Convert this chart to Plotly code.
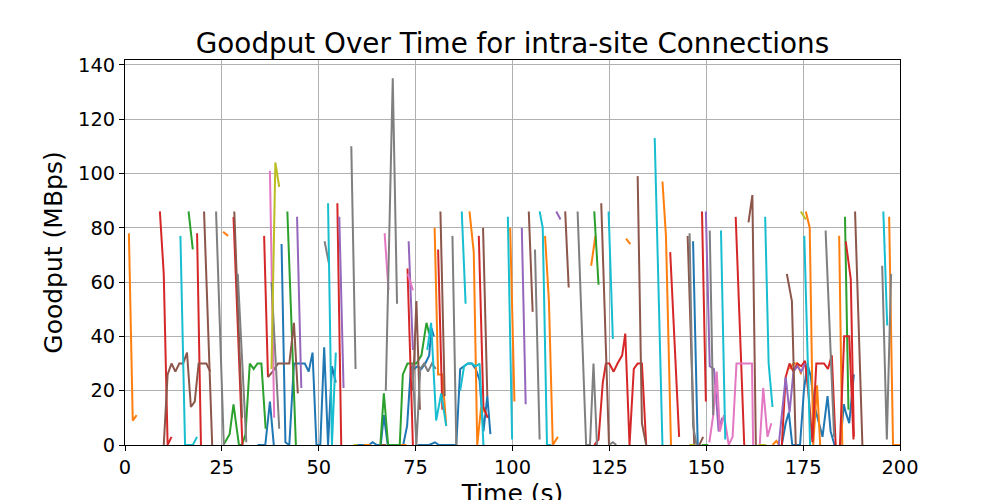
import plotly.graph_objects as go

# Goodput samples (time in s, goodput in MBps), one run per connection, grouped by line colour
blue_runs = [
    ([34.2, 35.2, 36.2, 37.4, 38.4], [0, 0, 0, 16, 0]),
    ([40.4, 41.4, 42.4, 43.6, 44.5, 45.5, 46.4, 47.4, 48.4, 49.4, 50.4, 51.4, 52.4, 53.4, 54.4],
     [74, 1, 0, 30, 30, 30, 30, 27, 34, 0, 0, 36, 0, 29, 23]),
    ([59.9, 61, 62, 63, 63.9, 65, 66, 66.8, 67.8, 68.8, 69.8, 70.8, 71.8, 72.8, 73.8, 74.6, 75.5, 76.5,
      77.5, 78.5, 79.1, 79.7],
     [0, 0, 0, 0, 1, 0, 0, 11, 0, 0, 0, 0, 0, 7, 29, 28, 29, 28, 30, 33, 43, 40]),
    ([75.5, 77, 78.5, 80, 81, 82, 83, 84.5, 85.5, 86.5, 87.5, 88.5, 89.5, 90.5, 91.5, 92.5, 93.5, 94.3],
     [0, 0, 0, 1, 0, 0, 0, 0, 0, 28, 29, 30, 30, 28, 24, 5, 18, 4]),
    ([146.6, 147.8], [75, 0]),
    ([169.5, 170.5, 171.3, 172.2, 173.2, 174.2, 175.2, 176.1, 177, 177.8, 179.1, 180, 181.3, 182.1, 183.1, 183.6],
     [0, 8, 12, 0, 0, 0, 20, 30, 25, 15, 8, 3, 18, 5, 0, 0]),
    ([184.6, 185.5, 186, 186.9, 188.1], [0, 15, 12, 8, 26]),
]
orange_runs = [
    ([1, 2, 3], [78, 9, 11]),
    ([25.3, 26.6], [78.5, 77]),
    ([61.6, 62.5, 63.4], [0, 0, 0]),
    ([71, 72, 72.6], [0, 0, 0]),
    ([79.9, 80.8, 81.9, 82.9], [80, 26, 26, 7]),
    ([88.9, 90, 90.9, 91.9, 92.9], [86, 71, 0, 14, 12]),
    ([99.4, 100.5], [80, 16]),
    ([108.4, 109.4, 110.4, 111.7], [77, 53, 0, 3]),
    ([120.3, 121.4], [66, 77]),
    ([129.3, 130.4], [76, 74]),
    ([138.7, 139.6, 140.9], [97, 77, 0]),
    ([167.1, 168.1, 168.8], [0, 1.5, 0]),
    ([171.5, 172.5, 173.5, 174.5], [28, 30, 30, 26]),
    ([175.7, 176.7, 177.6, 178.6, 179.4], [86, 80, 0, 22, 0]),
    ([184.3, 185.1], [77, 0]),
    ([197.2, 198.2, 199.2, 200], [84, 0, 0, 0]),
]
green_runs = [
    ([16.4, 17.5], [86, 72]),
    ([25.4, 27, 28, 29.4, 30.2, 31.1, 32.2, 33.2, 34.2, 35.2, 36.3], [0, 4, 15, 0, 0, 4, 30, 28, 30, 30, 6]),
    ([41.9, 44.1], [86, 0]),
    ([65.9, 66.8, 67.9, 68.9, 69.9, 70.9, 71.7, 72.9, 74, 75.2, 76.5, 77.8, 78.5],
     [0, 19, 0, 0, 0, 0, 26, 30, 30, 30, 33, 45, 41]),
    ([121.1, 122.2], [86, 59]),
    ([148.8, 150.5], [0, 0]),
    ([185.8, 186.7], [84, 13]),
]
red_runs = [
    ([9, 10, 11, 12], [86, 63, 0, 3]),
    ([18.6, 19.6], [78, 0]),
    ([28.0, 30.3], [84, 0]),
    ([35.9, 36.9], [77, 25]),
    ([54.8, 55.8], [89, 0]),
    ([72.9, 74.3], [65, 0]),
    ([80.8, 81.9], [72, 13]),
    ([91.3, 92.5, 93.6], [77, 14, 10]),
    ([121.1, 122.2, 123.3, 124.1, 125, 126.1, 127.1, 128.3, 129.1, 130.2, 131.3, 132.3, 133.4, 134.5],
     [0, 2, 23, 30, 30, 27, 30, 33, 41, 0, 28, 30, 30, 0]),
    ([140.7, 143], [71, 3]),
    ([148.9, 149.9], [86, 16]),
    ([157.6, 159.8], [84, 0]),
    ([169.5, 170.5, 171.5, 172.5, 173.5, 174.5, 175.5, 176.5, 177.4, 178.4, 179.4, 180.4, 181.4, 182.4, 183.4],
     [0, 25, 30, 27, 30, 29, 31, 17, 1, 30, 30, 30, 28, 33, 0]),
    ([184.5, 185.6, 186.9, 188], [0, 40, 40, 2]),
    ([186, 187.3, 188.1], [75, 61, 3]),
]
purple_runs = [
    ([44.4, 45.5], [84, 21]),
    ([55.3, 56.4], [84, 21]),
    ([73.2, 74.3], [75, 35]),
    ([102.4, 103.4], [80, 15]),
    ([111.3, 112.4], [86, 83]),
    ([149.9, 150.9, 152, 153.2, 154.1], [86, 29, 28, 5, 10]),
    ([168.7, 170.5, 171.5, 172.5, 173.5, 174.5, 175.5], [0, 25, 12, 27, 29, 27, 30]),
]
brown_runs = [
    ([10, 11, 12, 13, 14, 15, 16, 17, 18, 19, 20, 21, 22], [0, 26, 30, 27, 30, 30, 34, 14, 16, 30, 30, 30, 27]),
    ([20.4, 22.5], [86, 0]),
    ([28.2, 30.2], [86, 10]),
    ([36.9, 38.1, 39.5, 40.5, 41.5, 42.4, 43.6, 44.6], [25, 27, 30, 30, 30, 30, 45, 19]),
    ([66.1, 67.4], [0, 0]),
    ([74.3, 75.2, 76.1], [20, 53, 13]),
    ([81.4, 82.5], [86, 18]),
    ([92.4, 93.5], [80, 18]),
    ([104.2, 105.2], [86, 49]),
    ([113.6, 114.5], [86, 58]),
    ([122.9, 124.9], [89, 0]),
    ([132.3, 133.4, 134.5], [99, 8, 0]),
    ([145.2, 146.9], [77, 0]),
    ([148.2, 149.2], [0, 3]),
    ([160.9, 161.9, 162.8], [82, 92, 0]),
    ([170.8, 172.1, 173.1], [63, 53, 0]),
    ([188.4, 190.3], [86, 0]),
]
pink_runs = [
    ([37.4, 38.5], [101, 10]),
    ([67, 68], [78, 57]),
    ([73, 74.3], [63, 57]),
    ([150.8, 151.8, 152.7, 153.5, 154.6, 155.8, 156.8, 157.8, 159, 160.5, 161.8, 162.1],
     [1, 11, 27, 5, 11, 0, 3, 30, 30, 30, 30, 0]),
    ([163.8, 164.7, 165.8, 166.8], [0, 21, 3, 8]),
]
gray_runs = [
    ([23.5, 25.5], [86, 0]),
    ([29.1, 31.3], [63, 1]),
    ([37.8, 39.8], [60, 6]),
    ([51.5, 52.6], [75, 67]),
    ([58.4, 59.5], [110, 28]),
    ([67.3, 69.1, 70.2], [20, 135, 52]),
    ([74.2, 75.2, 76.2, 77.2, 78.2, 79.2, 80.2], [30, 0, 28, 30, 27, 30, 28]),
    ([84.5, 85.5], [77, 0]),
    ([105.8, 107], [72, 2]),
    ([116.8, 119, 120, 120.9, 121.8], [86, 0, 0, 30, 0]),
    ([124.9, 125.9, 126.8], [0, 1, 0]),
    ([145.7, 146.6, 147.5], [78, 7, 0]),
    ([150.9, 151.8], [79, 11]),
    ([180.8, 183], [79, 3]),
    ([195.4, 196.6, 197.7], [66, 2, 63]),
]
olive_runs = [
    ([37.8, 38.8, 39.8], [28, 104, 95]),
    ([59, 60], [0, 0]),
    ([145.6, 147], [0, 0]),
    ([163.5, 165.5], [0, 0]),
    ([174.4, 175.7], [86, 83]),
]
cyan_runs = [
    ([14.3, 15.5, 16.5, 17.5, 18.6], [77, 0, 0, 0, 3]),
    ([52.4, 53.4, 54.4], [89, 0, 34]),
    ([78, 79, 80.3, 81.6, 82.9], [35, 45, 9, 19, 7]),
    ([86.9, 87.9], [86, 52]),
    ([86.5, 87.5, 88.5, 89.5, 90.5, 91.5, 92.5], [20, 29, 30, 30, 29, 30, 0]),
    ([98.8, 99.9], [84, 2]),
    ([107, 107.8, 108.9, 110], [86, 80, 0, 0]),
    ([124.8, 125.9], [86, 39]),
    ([136.7, 138.7], [113, 0]),
    ([153.8, 154.9], [79, 2]),
    ([165.2, 166.1, 167.1], [84, 30, 14]),
    ([175.3, 176.1, 176.8], [77, 33, 0]),
    ([195.7, 196.7], [86, 44]),
]

x_ticks = [0, 25, 50, 75, 100, 125, 150, 175, 200]
y_ticks = [0, 20, 40, 60, 80, 100, 120, 140]

series = [
    (blue_runs, '#1f77b4'),
    (orange_runs, '#ff7f0e'),
    (green_runs, '#2ca02c'),
    (red_runs, '#d62728'),
    (purple_runs, '#9467bd'),
    (brown_runs, '#8c564b'),
    (pink_runs, '#e377c2'),
    (gray_runs, '#7f7f7f'),
    (olive_runs, '#bcbd22'),
    (cyan_runs, '#17becf'),
]


def join_runs(runs):
    """Flatten runs into one x/y pair with None gaps between connections."""
    xs, ys = [], []
    for t, v in runs:
        xs += list(t) + [None]
        ys += list(v) + [None]
    return xs, ys


fig = go.Figure()
for runs, color in series:
    xs, ys = join_runs(runs)
    fig.add_trace(go.Scatter(x=xs, y=ys, mode='lines', line=dict(color=color, width=2),
                             connectgaps=False, showlegend=False))

axis_style = dict(showgrid=True, gridcolor='#b0b0b0', gridwidth=1.1, zeroline=False,
                  showline=True, mirror=True, linecolor='black', linewidth=1.1,
                  ticks='outside', ticklen=5, tickwidth=1.1, tickcolor='black',
                  tickfont=dict(size=19.4, color='black'), automargin=False)

# the page body adds an 8px offset, so margins are shifted to keep the axes at 125..900 x 60..445
fig.update_layout(
    width=1000, height=500,
    paper_bgcolor='white', plot_bgcolor='white',
    font=dict(family='DejaVu Sans', color='black'),
    margin=dict(l=117, r=108, t=52, b=63),
    title=dict(text='Goodput Over Time for intra-site Connections', x=0.5045, xanchor='center',
               y=0.93, yanchor='middle', font=dict(size=27.8)),
    xaxis=dict(range=[0, 200], tickvals=x_ticks,
               title=dict(text='Time (s)', font=dict(size=25), standoff=15), **axis_style),
    yaxis=dict(range=[0, 141.75], tickvals=y_ticks,
               title=dict(text='Goodput (MBps)', font=dict(size=25), standoff=8), **axis_style),
)

fig.write_html("out.html")
